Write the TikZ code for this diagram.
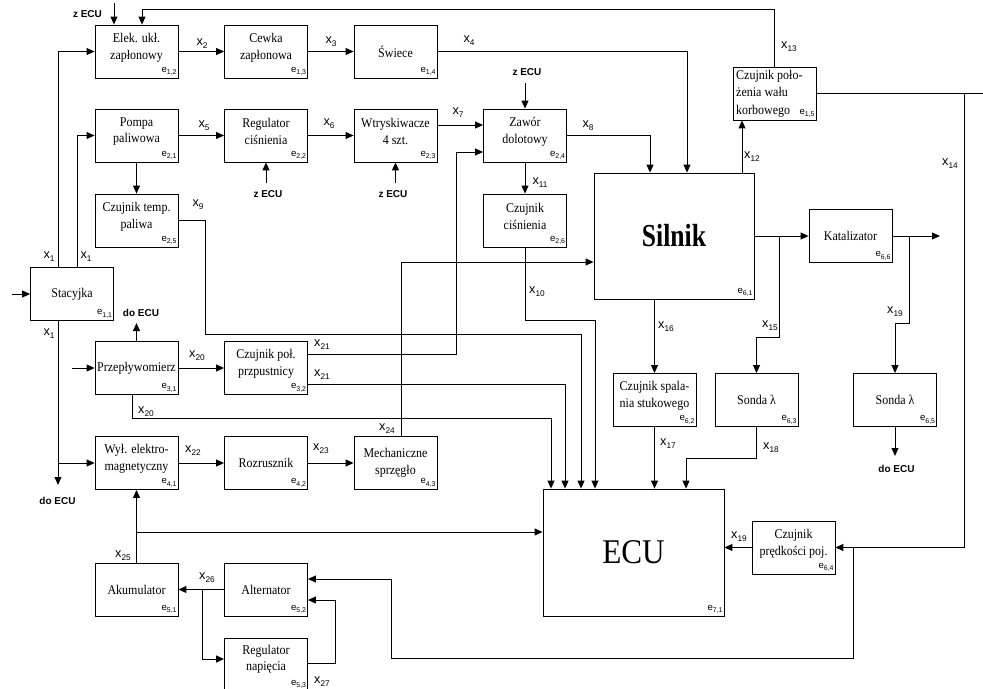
\documentclass[tikz,border=0pt]{standalone}
\usepackage{fontspec}
\setmainfont{Liberation Serif}[FakeStretch=0.9]
\setsansfont{Liberation Sans}
\newfontfamily\silfont{Liberation Serif}[FakeStretch=0.8]
\usetikzlibrary{arrows.meta}
\newcommand{\xl}[1]{x\raisebox{-2.4pt}{\fontsize{6.2}{7}\selectfont #1}}
\newcommand{\el}[1]{e\raisebox{-1.9pt}{\fontsize{5.2}{6}\selectfont #1}}
\tikzset{
 blk/.style={draw, line width=0.6pt, minimum width=62.25pt, minimum height=39.75pt, inner sep=0pt},
 btxt/.style={align=center, font=\rmfamily\fontsize{10}{12.5}\selectfont, inner sep=0pt},
 elab/.style={anchor=south east, inner xsep=1.2pt, inner ysep=1.8pt, font=\sffamily\fontsize{7.2}{8}\selectfont},
 xlab/.style={inner sep=0pt, font=\sffamily\fontsize{9.5}{11}\selectfont},
 ecul/.style={inner sep=0pt, font=\sffamily\bfseries\fontsize{7.5}{9}\selectfont},
 ln/.style={line width=0.75pt},
 arr/.style={ln, -{Triangle[length=6pt,width=5.2pt]}},
}
\newcommand{\blk}[5]{%
  \node[blk] (#1) at (#2) {};
  \node[btxt] at ([yshift=#3]#1.center) {#4};
  \node[elab] at (#1.south east) {\el{#5}};}
\begin{document}
\begin{tikzpicture}[x=0.75pt,y=-0.75pt]
\useasboundingbox[fill=white] (0,0) rectangle (983,689);
% boxes
\blk{e11}{72,294}{0pt}{Stacyjka}{1,1}
\blk{e12}{136.5,51.5}{3pt}{Elek. ukł.\\zapłonowy}{1,2}
\blk{e13}{266,51.5}{3pt}{Cewka\\zapłonowa}{1,3}
\blk{e14}{395.5,51.5}{0pt}{Świece}{1,4}
\blk{e21}{136.5,135.5}{3pt}{Pompa\\paliwowa}{2,1}
\blk{e22}{266,135.5}{3pt}{Regulator\\ciśnienia}{2,2}
\blk{e23}{395.5,135.5}{3pt}{Wtryskiwacze\\4 szt.}{2,3}
\blk{e24}{525,135.5}{3pt}{Zawór\\dolotowy}{2,4}
\blk{e25}{136.5,220.5}{3pt}{Czujnik temp.\\paliwa}{2,5}
\blk{e26}{525,220.5}{3pt}{Czujnik\\ciśnienia}{2,6}
\blk{e31}{136.5,368}{0pt}{Przepływomierz}{3,1}
\blk{e32}{266,368}{3pt}{Czujnik poł.\\przpustnicy}{3,2}
\blk{e41}{136.5,463}{3pt}{Wył. elektro-\\magnetyczny}{4,1}
\blk{e42}{266,463}{0pt}{Rozrusznik}{4,2}
\blk{e43}{395.5,463}{0pt}{Mechaniczne\\sprzęgło}{4,3}
\blk{e51}{136.5,589.5}{0pt}{Akumulator}{5,1}
\blk{e52}{266,589.5}{0pt}{Alternator}{5,2}
\blk{e53}{266,664.5}{4pt}{Regulator\\napięcia}{5,3}
\blk{e62}{654.5,400}{3pt}{Czujnik spala-\\nia stukowego}{6,2}
\blk{e63}{756.5,400}{0pt}{Sonda λ}{6,3}
\blk{e65}{895,400}{0pt}{Sonda λ}{6,5}
\blk{e66}{850.5,236}{0pt}{Katalizator}{6,6}
\blk{e64}{793.5,547.5}{3pt}{Czujnik\\prędkości poj.}{6,4}
\node[blk] (e15) at (774.5,93.5) {};
\node[btxt, align=left, anchor=west, font=\rmfamily\fontsize{10}{13}\selectfont] at ([xshift=2.5pt]e15.west) {Czujnik poło-\\żenia wału\\korbowego};
\node[elab] at (e15.south east) {\el{1,5}};
\node[blk, minimum width=120pt, minimum height=94.5pt] (e61) at (674,236) {};
\node[inner sep=0pt, font=\silfont\bfseries\fontsize{24}{28}\selectfont] at (e61.center) {Silnik};
\node[elab] at (e61.south east) {\el{6,1}};
\node[blk, minimum width=135.75pt, minimum height=95.25pt] (e71) at (633.5,552.5) {};
\node[inner sep=0pt, font=\rmfamily\fontsize{26}{30}\selectfont] at (e71.center) {ECU};
\node[elab] at (e71.south east) {\el{7,1}};
% top inputs
\coordinate (zt) at (114,3);
\draw[arr] (zt) -- (zt |- e12.north);
\node[ecul] at (87.5,14) {z ECU};
\coordinate (k13) at (142,9);
\draw[arr] (e15.north) |- (k13) -- (k13 |- e12.north);
% stacyjka
\coordinate (s0) at (12,294);
\draw[arr] (s0) -- (e11.west);
\coordinate (s1) at (58,0);
\coordinate (s2) at (77,0);
\draw[arr] (s1 |- e11.north) |- (e12.west);
\draw[arr] (s2 |- e11.north) |- (e21.west);
\coordinate (s3) at (58,485);
\draw[arr] (s1 |- e11.south) -- (s3);
\draw[arr] (s1 |- e41.west) -- (e41.west);
\node[ecul] at (57.5,500.5) {do ECU};
% row 1
\draw[arr] (e12.east) -- (e13.west);
\draw[arr] (e13.east) -- (e14.west);
\coordinate (c4) at (687,0);
\draw[arr] (e14.east) -| (c4 |- e61.north);
% row 2
\draw[arr] (e21.east) -- (e22.west);
\draw[arr] (e22.east) -- (e23.west);
\coordinate (c7) at (0,125);
\draw[arr] (e23.east |- c7) -- (e24.west |- c7);
\coordinate (z2) at (266,183);
\draw[arr] (z2) -- (e22.south);
\node[ecul] at (268,194.5) {z ECU};
\coordinate (z3) at (395.5,183);
\draw[arr] (z3) -- (e23.south);
\node[ecul] at (393,194.5) {z ECU};
\coordinate (z4) at (525,83);
\draw[arr] (z4) -- (e24.north);
\node[ecul] at (527,72.5) {z ECU};
\draw[arr] (e21.south) -- (e25.north);
\draw[arr] (e24.south) -- (e26.north);
\coordinate (c8) at (650,0);
\draw[arr] (e24.east) -| (c8 |- e61.north);
% to ECU
\coordinate (c9a) at (205,334);
\coordinate (c9) at (581,0);
\draw[arr] (e25.east) -| (c9a) -| (c9 |- e71.north);
\coordinate (c10a) at (595,320);
\draw[arr] (e26.south) |- (c10a) -- (c10a |- e71.north);
\coordinate (c20a) at (132,0);
\coordinate (c20b) at (551,418);
\draw[arr] (c20a |- e31.south) |- (c20b) -- (c20b |- e71.north);
\coordinate (c21a) at (0,354);
\coordinate (c21b) at (456,152);
\draw[arr] (e32.east |- c21a) -| (c21b) -- (e24.west |- c21b);
\coordinate (c21c) at (0,384);
\coordinate (c21d) at (565,0);
\draw[arr] (e32.east |- c21c) -| (c21d |- e71.north);
\coordinate (c24) at (401,262);
\draw[arr] (c24 |- e43.north) -- (c24) -- (e61.west |- c24);
% row 3, 4
\coordinate (p0) at (72,368);
\draw[arr] (p0) -- (e31.west);
\coordinate (p1) at (136.5,323);
\draw[arr] (e31.north) -- (p1);
\node[ecul] at (141,312.5) {do ECU};
\draw[arr] (e31.east) -- (e32.west);
\draw[arr] (e41.east) -- (e42.west);
\draw[arr] (e42.east) -- (e43.west);
% right part
\coordinate (c12) at (742,0);
\draw[arr] (c12 |- e61.north) -- (c12 |- e15.south);
\coordinate (c14a) at (983,93.5);
\coordinate (c14b) at (964,93.5);
\draw[ln] (e15.east) -- (c14a);
\draw[arr] (c14b) |- (e64.east);
\coordinate (c14c) at (853,0);
\coordinate (c14d) at (391,658);
\coordinate (c14e) at (0,579);
\draw[arr] (c14c |- e64.east) |- (c14d) |- (e52.east |- c14e);
\draw[arr] (e61.east) -- (e66.west);
\coordinate (k1) at (940,236);
\draw[arr] (e66.east) -- (k1);
\coordinate (c15a) at (779,236);
\coordinate (c15b) at (0,337);
\draw[arr] (c15a) |- (e63.north |- c15b) -- (e63.north);
\coordinate (c19a) at (909,236);
\coordinate (c19b) at (0,323);
\draw[arr] (c19a) |- (e65.north |- c19b) -- (e65.north);
\draw[arr] (e62.north |- e61.south) -- (e62.north);
\draw[arr] (e62.south) -- (e62.south |- e71.north);
\coordinate (c18) at (686,458);
\draw[arr] (e63.south) |- (c18) -- (c18 |- e71.north);
\coordinate (c65) at (895,456);
\draw[arr] (e65.south) -- (c65);
\node[ecul] at (896.5,469) {do ECU};
\draw[arr] (e64.west) -- (e71.east |- e64.west);
% power
\draw[arr] (e51.north) -- (e41.south);
\coordinate (c25) at (136.5,532);
\draw[arr] (c25) -- (e71.west |- c25);
\draw[arr] (e52.west) -- (e51.east);
\coordinate (c26) at (202,589.5);
\coordinate (c26b) at (0,659);
\draw[arr] (c26) |- (e53.west |- c26b);
\coordinate (c27a) at (0,663);
\coordinate (c27b) at (335,600);
\draw[arr] (e53.east |- c27a) -| (c27b) -- (e52.east |- c27b);
% labels
\node[xlab] at (49,257) {\xl{1}};
\node[xlab] at (86,257) {\xl{1}};
\node[xlab] at (49,334) {\xl{1}};
\node[xlab] at (202,44) {\xl{2}};
\node[xlab] at (331,42) {\xl{3}};
\node[xlab] at (469,41) {\xl{4}};
\node[xlab] at (204,126) {\xl{5}};
\node[xlab] at (329,124) {\xl{6}};
\node[xlab] at (458,113) {\xl{7}};
\node[xlab] at (588,126) {\xl{8}};
\node[xlab] at (198,205) {\xl{9}};
\node[xlab] at (537,292) {\xl{10}};
\node[xlab] at (540,183) {\xl{11}};
\node[xlab] at (752,157) {\xl{12}};
\node[xlab] at (789,47) {\xl{13}};
\node[xlab] at (950,164) {\xl{14}};
\node[xlab] at (770,326) {\xl{15}};
\node[xlab] at (666,327) {\xl{16}};
\node[xlab] at (668,444) {\xl{17}};
\node[xlab] at (771,448) {\xl{18}};
\node[xlab] at (895,312) {\xl{19}};
\node[xlab] at (739,537) {\xl{19}};
\node[xlab] at (197,356) {\xl{20}};
\node[xlab] at (146,412) {\xl{20}};
\node[xlab] at (322,345) {\xl{21}};
\node[xlab] at (322,375) {\xl{21}};
\node[xlab] at (193,451) {\xl{22}};
\node[xlab] at (321,449) {\xl{23}};
\node[xlab] at (387,429) {\xl{24}};
\node[xlab] at (123,556) {\xl{25}};
\node[xlab] at (207,578) {\xl{26}};
\node[xlab] at (322,682) {\xl{27}};
\end{tikzpicture}
\end{document}
